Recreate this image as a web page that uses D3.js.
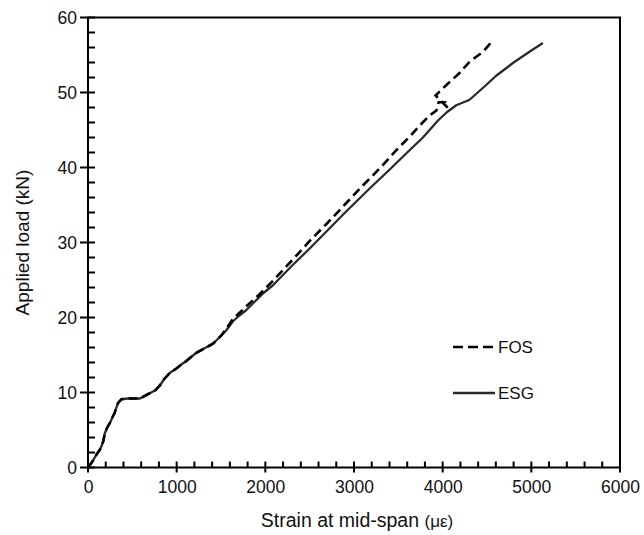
<!DOCTYPE html>
<html>
<head>
<meta charset="utf-8">
<script src="https://cdn.jsdelivr.net/npm/d3@7"></script>
<style>
  body { margin: 0; background: #fff; }
  svg { display: block; font-family: "Liberation Sans", Arial, sans-serif; }
</style>
</head>
<body>
<div id="chart"></div>
<script>
// strain (µε) / applied load (kN)
var esgStrain = [0, 50, 94, 130, 151, 175, 188, 215, 250, 280, 301, 320, 339, 377, 450, 585, 680, 760, 808, 860, 921, 997, 1060, 1109, 1170, 1222, 1300, 1409, 1504, 1560, 1635, 1700, 1786, 1880, 1973, 2086, 2300, 2500, 2700, 2900, 3176, 3400, 3600, 3777, 3853, 3950, 4050, 4153, 4300, 4472, 4600, 4800, 5000, 5130]
var esgLoad = [0, 0.8, 1.7, 2.3, 2.8, 3.6, 4.5, 5.3, 6.0, 6.8, 7.3, 8.0, 8.6, 9.1, 9.2, 9.2, 9.8, 10.3, 10.9, 11.8, 12.6, 13.2, 13.8, 14.2, 14.8, 15.3, 15.8, 16.5, 17.6, 18.3, 19.5, 20.2, 21.0, 22.1, 23.2, 24.3, 26.9, 29.2, 31.6, 34.0, 37.2, 39.7, 42.0, 44.0, 45.0, 46.3, 47.4, 48.3, 49.0, 50.8, 52.2, 54.0, 55.6, 56.6]

var fosStrain = [0, 50, 94, 130, 151, 175, 188, 215, 250, 280, 301, 320, 339, 377, 450, 585, 680, 760, 808, 860, 921, 997, 1060, 1109, 1170, 1222, 1300, 1409, 1504, 1560, 1635, 1786, 1936, 2086, 2300, 2500, 2700, 2900, 3100, 3300, 3477, 3650, 3758, 3850, 3930, 3955, 4030, 4055, 3920, 4060, 4190, 4303, 4453, 4548]
var fosLoad = [0, 0.8, 1.7, 2.3, 2.8, 3.6, 4.5, 5.3, 6.0, 6.8, 7.3, 8.0, 8.6, 9.1, 9.2, 9.2, 9.8, 10.3, 10.9, 11.8, 12.6, 13.2, 13.8, 14.2, 14.8, 15.3, 15.8, 16.5, 17.6, 18.5, 19.8, 21.5, 23.1, 24.9, 27.6, 30.2, 32.6, 35.1, 37.6, 40.0, 42.3, 44.4, 45.8, 46.9, 47.6, 48.7, 48.7, 48.0, 49.6, 51.2, 52.6, 54.1, 55.4, 56.7]

var xTicks = [0, 1000, 2000, 3000, 4000, 5000, 6000]
var yTicks = [0, 10, 20, 30, 40, 50, 60]
var seriesNames = ['FOS', 'ESG']

const WIDTH = 644
const HEIGHT = 535
var margin = {top: 17.5, right: 24, bottom: 67.5, left: 88}
var w = WIDTH - margin.left - margin.right
var h = HEIGHT - margin.top - margin.bottom

var x = d3.scaleLinear().domain([0, 6000]).range([0, w])
var y = d3.scaleLinear().domain([0, 60]).range([h, 0])

var svg = d3.select('#chart').append('svg')
  .attr('width', WIDTH)
  .attr('height', HEIGHT)

var g = svg.append('g')
  .attr('transform', 'translate(' + margin.left + ',' + margin.top + ')')

// frame
g.append('rect')
  .attr('width', w).attr('height', h)
  .attr('fill', 'none').attr('stroke', '#000').attr('stroke-width', 2)

// tick marks as one path: minor inward, major crossing the axis
var xMinor = x.ticks(30).map(function (d) { return 'M' + x(d) + ',' + h + 'v-6' }).join('')
var xMajor = xTicks.map(function (d) { return 'M' + x(d) + ',' + (h + 5) + 'v-11' }).join('')
var yMinor = y.ticks(30).map(function (d) { return 'M0,' + y(d) + 'h7' }).join('')
var yMajor = yTicks.map(function (d) { return 'M-8,' + y(d) + 'h15' }).join('')

g.append('path')
  .attr('d', xMinor + xMajor + yMinor + yMajor)
  .attr('fill', 'none')
  .attr('stroke', '#000')
  .attr('stroke-width', 2)

// tick labels
g.append('g')
  .attr('class', 'xmaj')
  .attr('transform', 'translate(0,' + h + ')')
  .call(d3.axisBottom(x).tickValues(xTicks).tickFormat(d3.format('d')).tickSize(0).tickPadding(13))
g.append('g')
  .attr('class', 'ymaj')
  .call(d3.axisLeft(y).tickValues(yTicks).tickFormat(d3.format('d')).tickSize(0).tickPadding(11))

g.selectAll('.domain').remove()
g.selectAll('.xmaj text, .ymaj text')
  .attr('fill', '#111')
  .style('font-size', '17.5px')
g.selectAll('.ymaj text').attr('dy', '0.36em')

var line = d3.line()
  .x(function (d) { return x(d[0]) })
  .y(function (d) { return y(d[1]) })

var esg = esgStrain.map(function (s, i) { return [s, esgLoad[i]] })
var fos = fosStrain.map(function (s, i) { return [s, fosLoad[i]] })

g.append('path')
  .datum(esg)
  .attr('d', line)
  .attr('fill', 'none')
  .attr('stroke', '#2a2a2a')
  .attr('stroke-width', 2.3)
  .attr('stroke-linejoin', 'round')

g.append('path')
  .datum(fos)
  .attr('d', line)
  .attr('fill', 'none')
  .attr('stroke', '#000')
  .attr('stroke-width', 2.6)
  .attr('stroke-dasharray', '9,5')

// legend
var legend = g.append('g').attr('transform', 'translate(' + (453 - margin.left) + ',' + (347 - margin.top) + ')')
seriesNames.forEach(function (name, i) {
  var row = legend.append('g').attr('transform', 'translate(0,' + (i * 46) + ')')
  row.append('line')
    .attr('x1', 0).attr('x2', 42)
    .attr('stroke', i === 0 ? '#000' : '#2a2a2a')
    .attr('stroke-width', i === 0 ? 2.6 : 2.3)
    .attr('stroke-dasharray', i === 0 ? '10,5' : null)
  row.append('text')
    .attr('x', 45).attr('dy', '0.36em')
    .style('font-size', '17px')
    .attr('fill', '#111')
    .text(name)
})

// axis titles
svg.append('text')
  .attr('transform', 'translate(29,' + (margin.top + h / 2) + ') rotate(-90)')
  .attr('text-anchor', 'middle')
  .style('font-size', '19px')
  .attr('fill', '#111')
  .text('Applied load (kN)')

var xt = svg.append('text')
  .attr('x', margin.left + w / 2 + 3)
  .attr('y', 527)
  .attr('text-anchor', 'middle')
  .style('font-size', '19.5px')
  .attr('fill', '#111')
xt.append('tspan').text('Strain at mid-span ')
xt.append('tspan').style('font-size', '17px').text('(με)')
</script>
</body>
</html>
